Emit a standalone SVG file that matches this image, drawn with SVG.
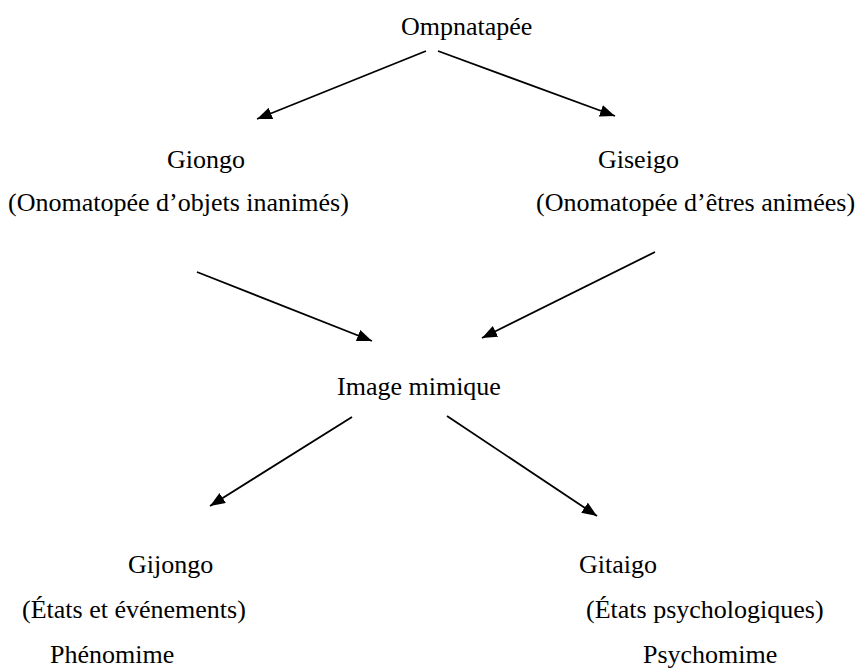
<svg xmlns="http://www.w3.org/2000/svg" width="857" height="671" viewBox="0 0 857 671">
  <style>
    .t { font-family: "Liberation Serif", "Times New Roman", serif; font-size: 26px; fill: #000; }
    .c { stroke: #000; stroke-width: 1.8; fill: none; marker-end: url(#head); }
  </style>
  <defs>
    <marker id="head" markerUnits="userSpaceOnUse" markerWidth="17" markerHeight="13" refX="15" refY="6" orient="auto">
      <path d="M0,0 L15,6 L0,12 Z" fill="#000"/>
    </marker>
  </defs>
  <rect width="857" height="671" fill="#fff"/>

  <g id="connectors">
    <line class="c" x1="426" y1="51" x2="257" y2="119"/>
    <line class="c" x1="438" y1="51" x2="615" y2="116"/>
    <line class="c" x1="197" y1="272" x2="372" y2="341"/>
    <line class="c" x1="655" y1="252" x2="482" y2="338"/>
    <line class="c" x1="352" y1="417" x2="210" y2="506"/>
    <line class="c" x1="447" y1="416" x2="597" y2="516"/>
  </g>

  <g id="ompnatapee">
    <text class="t" x="401" y="35">Ompnatapée</text>
  </g>
  <g id="giongo">
    <text class="t" x="167" y="168">Giongo</text>
    <text class="t" x="8" y="211">(Onomatopée d’objets inanimés)</text>
  </g>
  <g id="giseigo">
    <text class="t" x="598" y="168">Giseigo</text>
    <text class="t" x="536" y="211">(Onomatopée d’êtres animées)</text>
  </g>
  <g id="image-mimique">
    <text class="t" x="337" y="395">Image mimique</text>
  </g>
  <g id="gijongo">
    <text class="t" x="128" y="573">Gijongo</text>
    <text class="t" x="22" y="618">(États et événements)</text>
    <text class="t" x="50" y="663">Phénomime</text>
  </g>
  <g id="gitaigo">
    <text class="t" x="579" y="573">Gitaigo</text>
    <text class="t" x="586" y="618">(États psychologiques)</text>
    <text class="t" x="643" y="663">Psychomime</text>
  </g>
</svg>
